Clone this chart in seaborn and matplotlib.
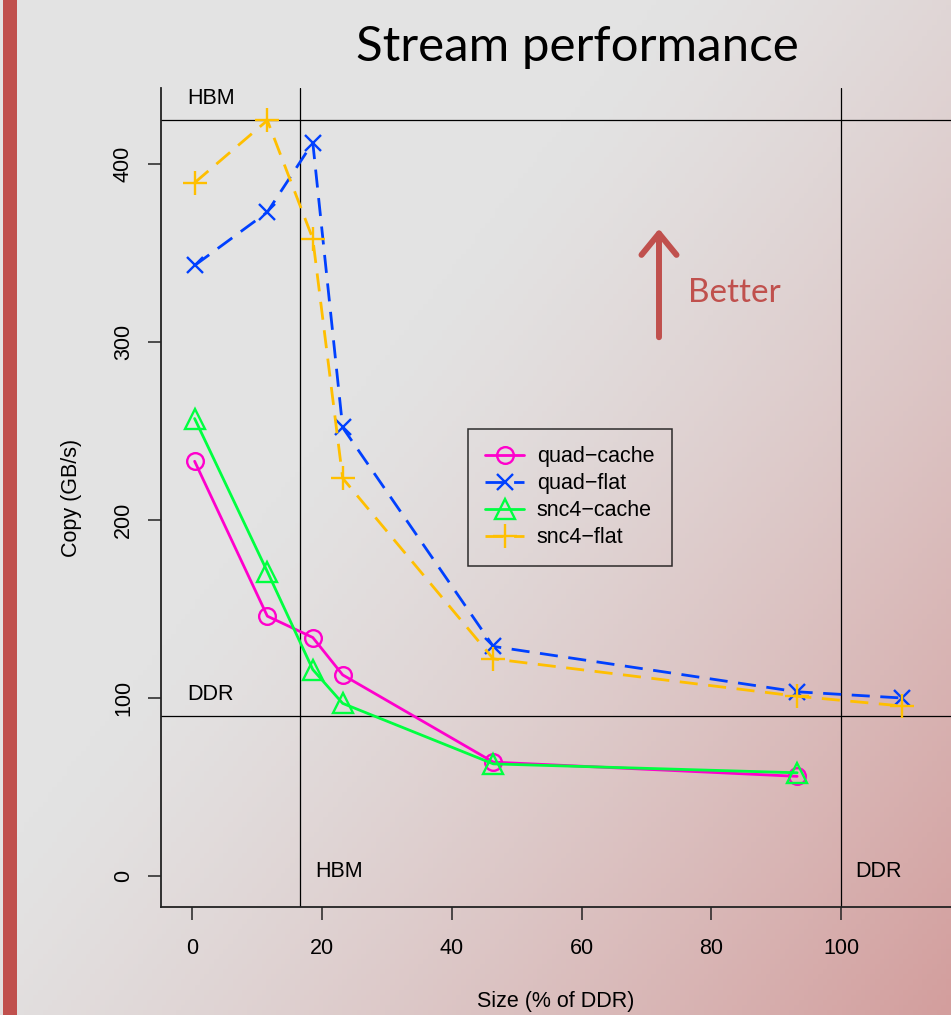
import numpy as np
import pandas as pd
import seaborn as sns
import matplotlib.pyplot as plt
from matplotlib.patches import FancyArrowPatch, Rectangle

# sizes in % of DDR
size_pct = [0.4, 11.6, 18.6, 23.2, 46.4, 93.2, 109.4]

# copy bandwidth (GB/s)
quad_cache = [233, 146, 134, 113, 64, 56]
quad_flat = [343, 373, 412, 252, 129, 103.5, 100]
snc4_cache = [257, 171, 116, 97, 63, 58]
snc4_flat = [389.5, 424.5, 358, 223.5, 122, 101, 95.5]

hbm_bw = 425
ddr_bw = 90
hbm_size = 16 / 96 * 100
ddr_size = 100

W, H = 951, 1015
sns.set_style("ticks")
plt.rcParams["font.family"] = ["Liberation Sans", "DejaVu Sans"]
plt.rcParams["text.color"] = "black"
plt.rcParams["axes.labelcolor"] = "black"
plt.rcParams["xtick.color"] = "black"
plt.rcParams["ytick.color"] = "black"

fig = plt.figure(figsize=(W / 100, H / 100), dpi=100)

# slide background gradient
bg = fig.add_axes([0, 0, 1, 1], zorder=-10)
yy, xx = np.mgrid[0:1:200j, 0:1:200j]
t = np.clip((0.55 * xx + 0.45 * yy - 0.38) / 0.62, 0, 1) ** 1.3
grey = np.array([227, 227, 227]) / 255
pink = np.array([211, 158, 157]) / 255
img = grey[None, None, :] * (1 - t[..., None]) + pink[None, None, :] * t[..., None]
bg.imshow(img, extent=[0, 1, 0, 1], aspect="auto", origin="upper")
bg.add_patch(Rectangle((3 / W, 0), 14 / W, 1, color="#C0504D", lw=0))
bg.set_xlim(0, 1)
bg.set_ylim(0, 1)
bg.axis("off")

# plot area
ax = fig.add_axes([161 / W, (H - 907) / H, (W - 161) / W, (907 - 88) / H])
ax.set_facecolor("none")

series = [
    ("quad\u2212cache", size_pct[:6], quad_cache, "#FF00CC", "o", "-", 12),
    ("quad\u2212flat", size_pct, quad_flat, "#0040FF", "x", "--", 12),
    ("snc4\u2212cache", size_pct[:6], snc4_cache, "#00FF40", "^", "-", 14),
    ("snc4\u2212flat", size_pct, snc4_flat, "#FFBF00", "+", "--", 17),
]

for name, xs, ys, col, mk, ls, ms in series:
    df = pd.DataFrame({"size": xs, "copy": ys})
    sns.lineplot(data=df, x="size", y="copy", ax=ax, color=col, marker=mk,
                 markersize=ms, mfc="none", mec=col, mew=1.7, lw=2.0,
                 linestyle=ls, label=name, estimator=None, sort=False,
                 clip_on=False, zorder=3)
    if ls == "--":
        ax.lines[-1].set_dashes((6.5, 3.8))

# capacity / bandwidth reference lines
for v in (hbm_bw, ddr_bw):
    ax.axhline(v, color="black", lw=0.9, zorder=2)
for v in (hbm_size, ddr_size):
    ax.axvline(v, color="black", lw=0.9, zorder=2)

lab = dict(fontsize=15.5, va="center", ha="left", color="black")
ax.text(-0.8, 437, "HBM", **lab)
ax.text(-0.8, 102, "DDR", **lab)
ax.text(19.0, 2.5, "HBM", **lab)
ax.text(102.2, 2.5, "DDR", **lab)

ax.set_xlim(-4.78, 116.9)
ax.set_ylim(-17.4, 442.7)
ax.set_xticks([0, 20, 40, 60, 80, 100])
ax.set_yticks([0, 100, 200, 300, 400])
ax.tick_params(axis="both", length=9.5, width=1.1, labelsize=15.5, color="#222222")
ax.tick_params(axis="x", pad=13)
ax.tick_params(axis="y", pad=10)
for lbl in ax.get_yticklabels():
    lbl.set_rotation(90)
    lbl.set_va("center")
sns.despine(ax=ax, top=True, right=True)
for s in ("left", "bottom"):
    ax.spines[s].set_linewidth(1.3)
    ax.spines[s].set_color("#222222")

ax.set_xlabel("Size (% of DDR)", fontsize=15.5, labelpad=23)
ax.set_ylabel("Copy (GB/s)", fontsize=15.5, labelpad=22)

leg = ax.legend(loc="upper left", bbox_to_anchor=((468 - 161) / (W - 161), (907 - 429) / (907 - 88)),
                borderaxespad=0, fontsize=15.5, frameon=True, fancybox=False,
                handlelength=1.8, handletextpad=0.6, labelspacing=0.28,
                borderpad=0.8, edgecolor="black", facecolor="none")
leg.get_frame().set_linewidth(1.1)

# title and "Better" arrow (slide decorations)
fig.text(577 / W, 1 - 47 / H, "Stream performance", fontsize=35.5, family="Lato",
         ha="center", va="center", color="black")
fig.text(688 / W, 1 - 293 / H, "Better", fontsize=24, family="Lato",
         ha="left", va="center", color="#C0504D")
arrow = FancyArrowPatch((659 / W, 1 - 340 / H), (659 / W, 1 - 226 / H),
                        transform=fig.transFigure,
                        arrowstyle="->,head_length=0.55,head_width=0.45",
                        mutation_scale=28, color="#C0504D", lw=4.3,
                        capstyle="round", joinstyle="round")
fig.add_artist(arrow)

fig.savefig("out.png", dpi=100)
